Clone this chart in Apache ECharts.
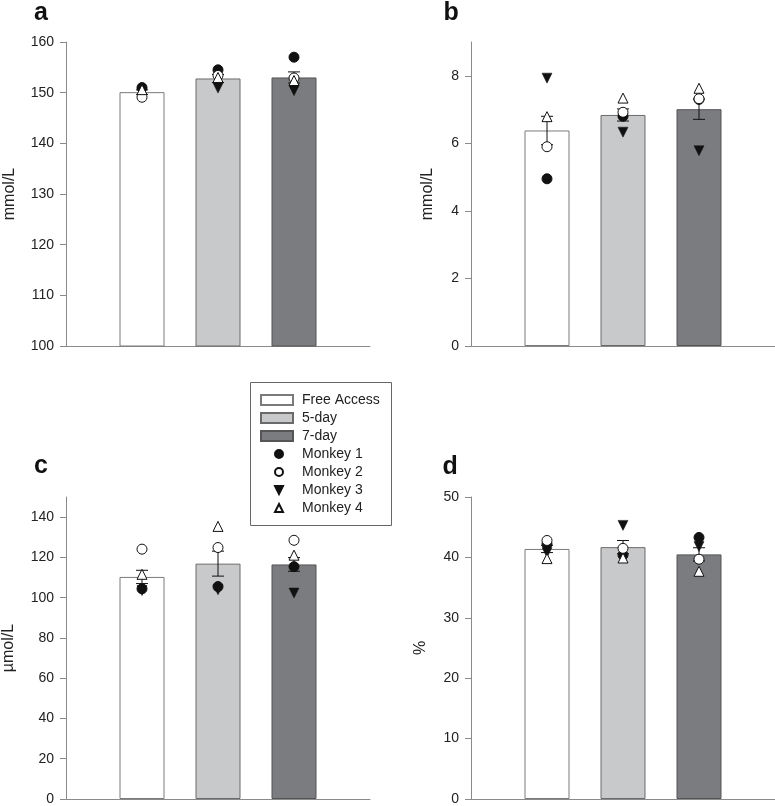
<!DOCTYPE html>
<html>
<head>
<meta charset="utf-8">
<script src="https://cdn.jsdelivr.net/npm/echarts@6/dist/echarts.min.js"></script>
<style>
html,body{margin:0;padding:0;background:#fff;}
#chart{width:775px;height:806px;}
</style>
</head>
<body>
<div id="chart"></div>
<script>
// ---- data ----
var categories = ['', 'Free Access', '5-day', '7-day', ''];
var groups = ['Free Access', '5-day', '7-day'];
var monkeys = ['Monkey 1', 'Monkey 2', 'Monkey 3', 'Monkey 4'];

var meanA = [150.1, 152.8, 153.0];
var semA = [0.45, 0.8, 1.1];
var m1A = [151.0, 154.5, 157.0];
var m2A = [149.1, 153.4, 152.9];
var m3A = [149.9, 150.9, 150.4];
var m4A = [150.6, 153.0, 152.4];

var meanB = [6.38, 6.84, 7.01];
var semB = [0.42, 0.18, 0.3];
var m1B = [4.95, 6.8, 7.3];
var m2B = [5.9, 6.92, 7.32];
var m3B = [7.93, 6.33, 5.78];
var m4B = [6.79, 7.34, 7.63];

var meanC = [110.3, 116.9, 116.5];
var semC = [3.3, 6.2, 3.4];
var m1C = [104.4, 105.5, 115.4];
var m2C = [124.1, 124.9, 128.5];
var m3C = [103.5, 103.9, 102.3];
var m4C = [111.6, 135.4, 121.1];

var meanD = [41.4, 41.7, 40.5];
var semD = [0.6, 1.1, 1.1];
var m1D = [42.2, 40.4, 43.3];
var m2D = [42.8, 41.5, 39.7];
var m3D = [40.8, 45.3, 41.8];
var m4D = [39.8, 39.9, 37.7];

var ticksA = [100, 110, 120, 130, 140, 150, 160];
var ticksB = [0, 2, 4, 6, 8];
var ticksC = [0, 20, 40, 60, 80, 100, 120, 140];
var ticksD = [0, 10, 20, 30, 40, 50];

var panelLetters = ['a', 'b', 'c', 'd'];
var axisNames = ['mmol/L', 'mmol/L', 'µmol/L', '%'];

// ---- styling / layout ----
var FONT = 'Liberation Sans, Arial, sans-serif';
var AXIS_COLOR = '#8a8a8a';
var TEXT_COLOR = '#222';
var barColors = ['#ffffff', '#c8c9cb', '#7b7c80'];
var barBorders = ['#7a7a7a', '#6a6a6a', '#555555'];

var panels = [
  {mean: meanA, sem: semA, m: [m1A, m2A, m3A, m4A], min: 100, max: 160, interval: 10, ticks: ticksA,
   grid: {left: 66, top: 42, width: 304, height: 304}, nameGap: 48},
  {mean: meanB, sem: semB, m: [m1B, m2B, m3B, m4B], min: 0, max: 9, interval: 2, ticks: ticksB,
   grid: {left: 471, top: 42, width: 304, height: 304}, nameGap: 35},
  {mean: meanC, sem: semC, m: [m1C, m2C, m3C, m4C], min: 0, max: 150, interval: 10, ticks: ticksC,
   grid: {left: 66, top: 497, width: 304, height: 304}, nameGap: 49},
  {mean: meanD, sem: semD, m: [m1D, m2D, m3D, m4D], min: 0, max: 50, interval: 10, ticks: ticksD,
   grid: {left: 471, top: 497, width: 304, height: 304}, nameGap: 42}
];

var letterPos = [[34, 1], [443.5, 1], [34, 454], [442.5, 455]];

var invTri = 'path://M0,0L10,0L5,10Z';
var monkeyStyles = [
  {symbol: 'circle', itemStyle: {color: '#111', borderColor: '#111', borderWidth: 1, opacity: 1}},
  {symbol: 'circle', itemStyle: {color: '#fff', borderColor: '#111', borderWidth: 1, opacity: 1}},
  {symbol: invTri, itemStyle: {color: '#111', borderColor: '#111', borderWidth: 0.5, opacity: 1}},
  {symbol: 'triangle', itemStyle: {color: '#fff', borderColor: '#111', borderWidth: 1, opacity: 1}}
];
var drawOrder = [0, 2, 1, 3];

var grids = [], xAxes = [], yAxes = [], series = [], graphics = [];

panels.forEach(function (p, pi) {
  grids.push(p.grid);
  xAxes.push({
    type: 'category', gridIndex: pi, data: categories, boundaryGap: false,
    axisLine: {show: true, lineStyle: {color: AXIS_COLOR, width: 1}},
    axisTick: {show: false}, axisLabel: {show: false}, splitLine: {show: false}
  });
  yAxes.push({
    type: 'value', gridIndex: pi, min: p.min, max: p.max, interval: p.interval,
    name: axisNames[pi], nameLocation: 'middle', nameGap: p.nameGap,
    nameTextStyle: {fontFamily: FONT, fontSize: 16, color: TEXT_COLOR},
    axisLine: {show: true, lineStyle: {color: AXIS_COLOR, width: 1}},
    axisTick: {show: true, length: 6, lineStyle: {color: AXIS_COLOR}, customValues: p.ticks},
    axisLabel: {fontFamily: FONT, fontSize: 14, color: TEXT_COLOR, margin: 12, customValues: p.ticks},
    splitLine: {show: false}
  });
  groups.forEach(function (g, gi) {
    var d = categories.map(function () { return '-'; });
    d[gi + 1] = p.mean[gi];
    series.push({
      type: 'bar', name: g, xAxisIndex: pi, yAxisIndex: pi, data: d,
      barWidth: 45, barGap: '-100%',
      itemStyle: {color: barColors[gi], borderColor: barBorders[gi], borderWidth: 1},
      z: 2
    });
  });
  series.push({
    type: 'custom', name: 'sem', xAxisIndex: pi, yAxisIndex: pi, z: 3,
    data: p.mean.map(function (v, i) { return [i + 1, v, p.sem[i]]; }),
    renderItem: function (params, api) {
      var x = api.value(0), m = api.value(1), s = api.value(2);
      var top = api.coord([x, m + s]);
      var bot = api.coord([x, m - s]);
      var hw = 6;
      var st = {stroke: '#111', lineWidth: 1};
      return {type: 'group', children: [
        {type: 'line', shape: {x1: top[0], y1: top[1], x2: bot[0], y2: bot[1]}, style: st},
        {type: 'line', shape: {x1: top[0] - hw, y1: top[1], x2: top[0] + hw, y2: top[1]}, style: st},
        {type: 'line', shape: {x1: bot[0] - hw, y1: bot[1], x2: bot[0] + hw, y2: bot[1]}, style: st}
      ]};
    }
  });
  drawOrder.forEach(function (mi, k) {
    var ms = monkeyStyles[mi];
    series.push({
      type: 'scatter', name: monkeys[mi], xAxisIndex: pi, yAxisIndex: pi,
      data: p.m[mi].map(function (v, i) { return [i + 1, v]; }),
      symbol: ms.symbol, symbolSize: 10, itemStyle: ms.itemStyle, z: 4 + k
    });
  });
  graphics.push({
    type: 'text', left: letterPos[pi][0], top: letterPos[pi][1],
    style: {text: panelLetters[pi], fontFamily: FONT, fontSize: 25, fontWeight: 'bold', fill: '#111'}
  });
});

// legend frame
graphics.push({
  type: 'rect',
  shape: {x: 250.5, y: 382.5, width: 141, height: 143},
  style: {fill: 'none', stroke: '#666', lineWidth: 1}, z: 10
});

var legendText = {fontFamily: FONT, fontSize: 14, color: TEXT_COLOR, lineHeight: 16};

var option = {
  animation: false,
  backgroundColor: '#fff',
  grid: grids,
  xAxis: xAxes,
  yAxis: yAxes,
  series: series,
  graphic: graphics,
  legend: [
    {
      data: groups.map(function (n) { return {name: n, icon: 'rect'}; }),
      orient: 'vertical', left: 260, top: 392, padding: 0, itemGap: 2,
      itemWidth: 32, itemHeight: 10, selectedMode: false,
      textStyle: Object.assign({padding: [0, 0, 0, 4]}, legendText)
    },
    {
      data: monkeys.map(function (n) { return {name: n}; }),
      orient: 'vertical', left: 274, top: 446, padding: 0, itemGap: 2,
      itemWidth: 8, itemHeight: 8, selectedMode: false,
      textStyle: Object.assign({padding: [0, 0, 0, 14]}, legendText)
    }
  ]
};

var chart = echarts.init(document.getElementById('chart'), null, {renderer: 'canvas'});
chart.setOption(option);
</script>
</body>
</html>
